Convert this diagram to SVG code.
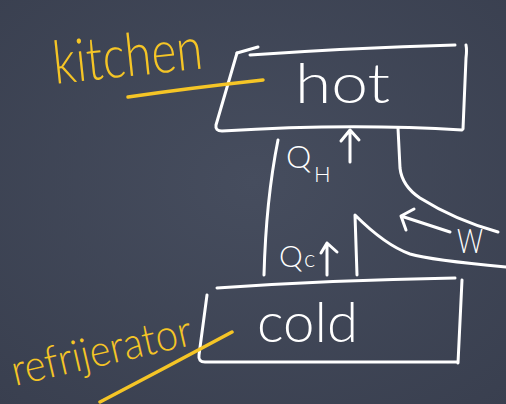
<svg xmlns="http://www.w3.org/2000/svg" width="506" height="404" viewBox="0 0 506 404">
  <defs>
    <radialGradient id="board" cx="50%" cy="45%" r="75%">
      <stop offset="0" stop-color="#464d5e"/>
      <stop offset="1" stop-color="#393f4f"/>
    </radialGradient>
    <style>
      .chalk{fill:none;stroke:#ffffff;stroke-width:3;stroke-linecap:round;stroke-linejoin:round}
      .ychalk{fill:none;stroke:#f5c526;stroke-width:3.5;stroke-linecap:round;stroke-linejoin:round}
      .wt{fill:#ffffff;font-family:Lato,"Liberation Sans","DejaVu Sans",sans-serif;font-weight:300}
      .yt{fill:#f5c526;font-family:Lato,"Liberation Sans","DejaVu Sans",sans-serif;font-weight:300}
    </style>
  </defs>
  <rect width="506" height="404" fill="url(#board)"/>

  <g id="hot">
    <path class="chalk" d="M237,53 L258,47"/>
    <path class="chalk" d="M250,55 Q350,48 455,45"/>
    <path class="chalk" d="M466,45 Q467,50 466,58 L463,129"/>
    <path class="chalk" d="M237,53 L216,125 Q215,131 222,131 Q350,123 462,130"/>
    <text class="wt" x="295" y="103" font-size="56" textLength="95" lengthAdjust="spacingAndGlyphs">hot</text>
  </g>

  <g id="cold">
    <path class="chalk" d="M217,288 Q330,280 455,278"/>
    <path class="chalk" d="M462,280 L458,363"/>
    <path class="chalk" d="M207,295 L199,355 Q198,362 205,362 L457,362"/>
    <text class="wt" x="257" y="342" font-size="56" textLength="101" lengthAdjust="spacingAndGlyphs">cold</text>
  </g>

  <g id="kitchen-label">
    <text class="yt" x="55" y="84" font-size="60" textLength="150" lengthAdjust="spacingAndGlyphs" transform="rotate(-6 55 84)">kitchen</text>
    <path class="ychalk" d="M128,97 Q190,88 263,80"/>
  </g>

  <g id="refrigerator-label">
    <text class="yt" x="15" y="386" font-size="44" textLength="184" lengthAdjust="spacingAndGlyphs" transform="rotate(-13 15 386)">refrijerator</text>
    <path class="ychalk" d="M100,402 Q165,368 232,332"/>
  </g>

  <g id="connectors">
    <path class="chalk" d="M278,140 Q266,200 264,275"/>
    <path class="chalk" d="M398,128 L400,168 Q402,186 420,198 Q455,220 498,232"/>
    <path class="chalk" d="M357,275 L355,215 Q385,245 410,254 Q430,260 506,267"/>
    <path class="chalk" d="M350,162 L350,131 M341,141 L350,130 L359,140"/>
    <path class="chalk" d="M327,275 L327,243 M321,253 L327,243 L337,252"/>
    <path class="chalk" d="M450,232 L401,216 M414,209 L401,216 L406,230"/>
  </g>

  <g id="labels">
    <text class="wt" x="286" y="168" font-size="32">Q</text>
    <text class="wt" x="314" y="182" font-size="22">H</text>
    <text class="wt" x="279" y="267" font-size="30">Q</text>
    <text class="wt" x="304" y="267" font-size="24">c</text>
    <text class="wt" x="457" y="253" font-size="34" textLength="26" lengthAdjust="spacingAndGlyphs">W</text>
  </g>
</svg>
